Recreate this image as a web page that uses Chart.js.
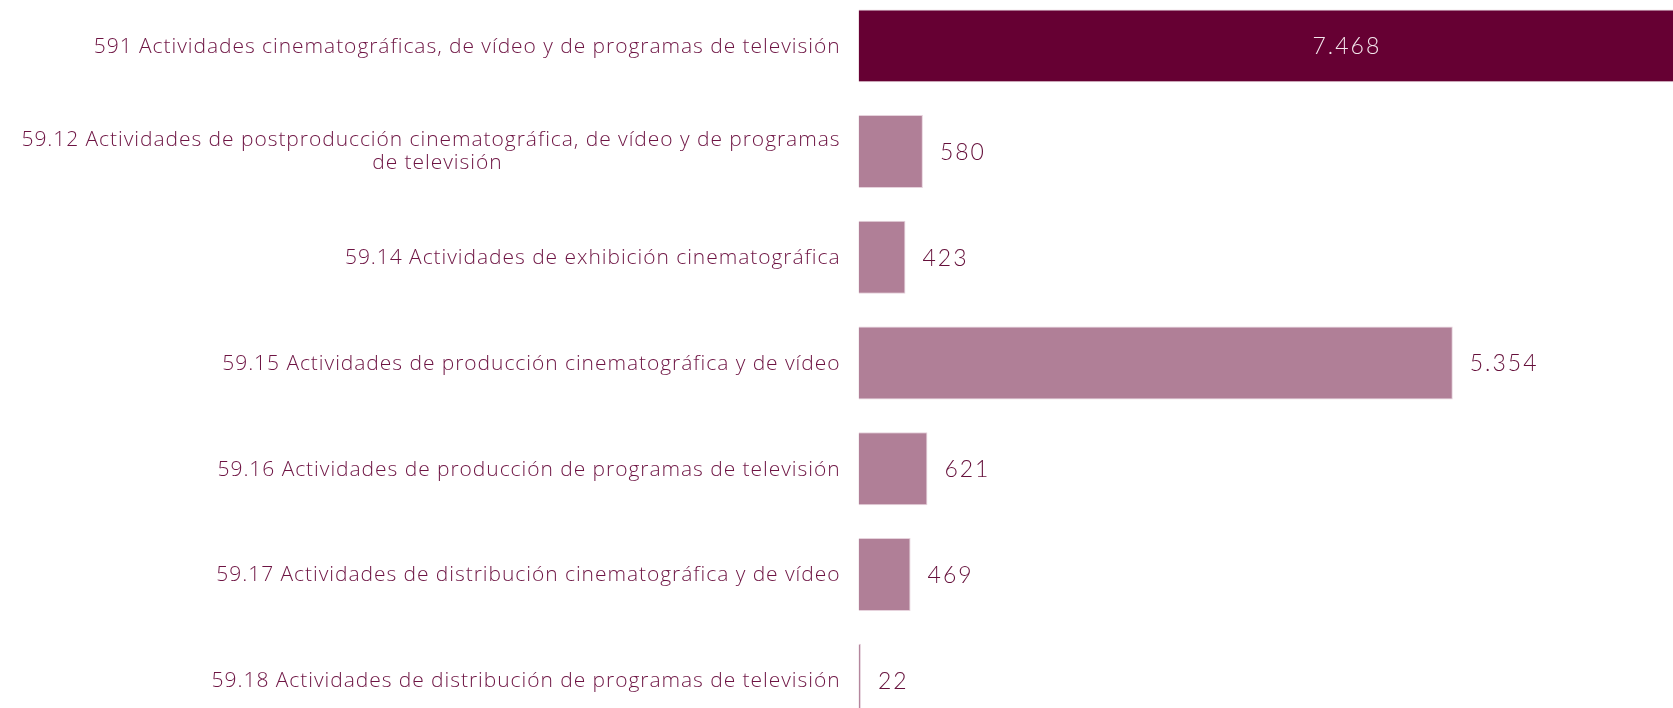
<!DOCTYPE html>
<html lang="es">
<head>
  <meta charset="UTF-8" />
  <title>Actividades cinematográficas</title>
  <style>
    html, body { margin: 0; padding: 0; background: #fff; overflow: hidden; }
    body { width: 1673px; height: 708px; position: relative; }
    #chart-container { position: absolute; left: 0; top: -7px; width: 1673px; height: 740px; }
  </style>
</head>
<body>
  <div id="chart-container">
    <canvas id="barChart"></canvas>
  </div>

  <script src="https://cdn.jsdelivr.net/npm/chart.js"></script>
  <script>
    // categories (multi-line label given as array)
    const categories = [
      ['591 Actividades cinematográficas, de vídeo y de programas de televisión'],
      ['59.12 Actividades de postproducción cinematográfica, de vídeo y de programas', 'de televisión'],
      ['59.14 Actividades de exhibición cinematográfica'],
      ['59.15 Actividades de producción cinematográfica y de vídeo'],
      ['59.16 Actividades de producción de programas de televisión'],
      ['59.17 Actividades de distribución cinematográfica y de vídeo'],
      ['59.18 Actividades de distribución de programas de televisión']
    ];
    const values = [7468, 580, 423, 5354, 621, 469, 22];
    const valueLabels = ['7.468', '580', '423', '5.354', '621', '469', '22'];
    const barColors = ['#660033', '#b07f97', '#b07f97', '#b07f97', '#b07f97', '#b07f97', '#b07f97'];

    const labelFont = '"Open Sans", "Noto Sans", sans-serif';
    const valueFont = '"Lato", "Open Sans", sans-serif';
    const labelColor = '#6e1443';
    const valueColor = '#650f3a';

    // draws category labels and value labels
    const labelPlugin = {
      id: 'labels',
      afterDatasetsDraw(chart) {
        const ctx = chart.ctx;
        const xScale = chart.scales.x;
        const yScale = chart.scales.y;
        const meta = chart.getDatasetMeta(0);
        const area = chart.chartArea;
        const rightEdge = area.left - 18;

        ctx.save();
        ctx.textBaseline = 'middle';

        // category labels
        ctx.font = '300 21px ' + labelFont;
        ctx.letterSpacing = '0.95px';
        ctx.fillStyle = labelColor;
        categories.forEach((lines, i) => {
          const y = yScale.getPixelForValue(i);
          if (lines.length === 1) {
            ctx.textAlign = 'right';
            ctx.fillText(lines[0], rightEdge, y + 1);
          } else {
            const lh = 23;
            const w = ctx.measureText(lines[0] + '  ').width;
            ctx.textAlign = 'right';
            ctx.fillText(lines[0], rightEdge, y - lh / 2);
            ctx.textAlign = 'center';
            ctx.fillText(lines[1], rightEdge - w / 2 + ctx.measureText('  ').width, y + lh / 2);
          }
        });

        // value labels
        ctx.font = '300 23px ' + valueFont;
        ctx.letterSpacing = '2px';
        meta.data.forEach((bar, i) => {
          const y = bar.y + 1;
          if (values[i] > xScale.max) {
            ctx.fillStyle = '#f3e6ec';
            ctx.textAlign = 'center';
            ctx.fillText(valueLabels[i], xScale.getPixelForValue(4400), y);
          } else {
            ctx.fillStyle = valueColor;
            ctx.textAlign = 'left';
            ctx.fillText(valueLabels[i], bar.x + 17, y);
          }
        });
        ctx.restore();
      }
    };

    const ctx = document.getElementById('barChart').getContext('2d');
    new Chart(ctx, {
      type: 'bar',
      data: {
        labels: categories,
        datasets: [{
          data: values,
          backgroundColor: barColors,
          borderColor: '#e6d2dc',
          borderWidth: 1,
          borderSkipped: 'left',
          barPercentage: 0.69,
          categoryPercentage: 1
        }]
      },
      options: {
        indexAxis: 'y',
        responsive: true,
        maintainAspectRatio: false,
        animation: false,
        layout: { padding: { left: 858.5, right: 0, top: 0, bottom: 0 } },
        scales: {
          x: { display: false, min: 0, max: 7338 },
          y: { display: false }
        },
        plugins: {
          legend: { display: false },
          tooltip: { enabled: false }
        }
      },
      plugins: [labelPlugin]
    });
  </script>
</body>
</html>
